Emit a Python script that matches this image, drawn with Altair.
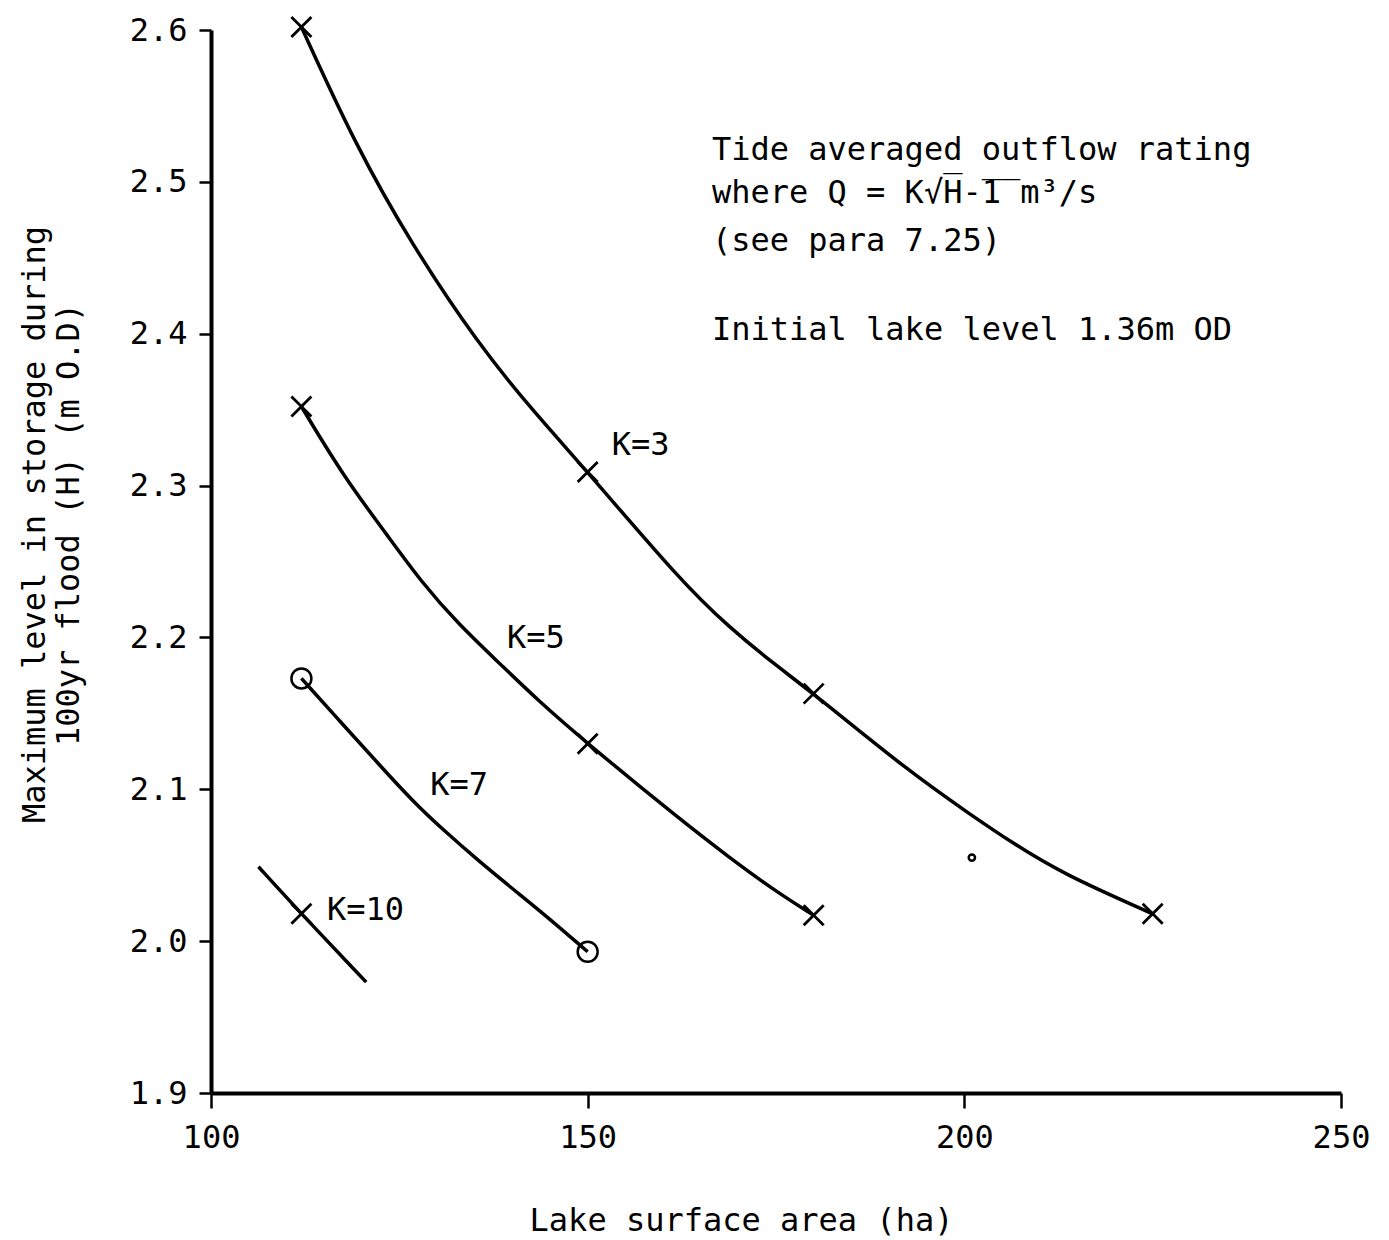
import altair as alt
import pandas as pd

# ---- curve values ----
k3_x = [112, 119.1, 126.6, 135.5, 142.6, 150, 162.3, 168.7, 174.6, 180, 192.3, 201.2, 206.6, 213.0, 225]
k3_y = [2.602, 2.525, 2.459, 2.393, 2.350, 2.309, 2.2375, 2.207, 2.183, 2.163, 2.113, 2.082, 2.064, 2.0445, 2.018]

k5_x = [112, 117.6, 123.3, 128.0, 132.8, 138.5, 143.3, 150, 162.3, 168.7, 174.6, 180]
k5_y = [2.352, 2.306, 2.268, 2.236, 2.209, 2.182, 2.159, 2.130, 2.080, 2.0555, 2.034, 2.017]

k7_x = [112, 117.8, 122.2, 126.6, 131.1, 135.5, 139.9, 144.4, 150]
k7_y = [2.173, 2.141, 2.117, 2.093, 2.072, 2.053, 2.035, 2.017, 1.993]

k10_x = [106.3, 112, 120.6]
k10_y = [2.049, 2.018, 1.973]

# ---- markers ----
cross_x = [112, 150, 180, 225, 112, 150, 180, 112]
cross_y = [2.602, 2.309, 2.163, 2.018, 2.352, 2.130, 2.017, 2.018]
circle_x = [112, 150]
circle_y = [2.173, 1.993]
dot_x = [201.0]
dot_y = [2.055]

# ---- curve labels ----
klabel_text = ["K=3", "K=5", "K=7", "K=10"]
klabel_x = [153.2, 139.3, 129.1, 115.4]
klabel_y = [2.3266, 2.1995, 2.1027, 2.0204]

# ---- annotation block ----
note_text = [
    "Tide averaged outflow rating",
    "where Q = K\u221aH\u0305-\u03051\u0305   m\u00b3/s",
    "(see para 7.25)",
    "Initial lake level 1.36m OD",
]
note_x = [166.5, 166.5, 166.5, 166.5]
note_y = [2.521, 2.4925, 2.4613, 2.4023]

x_ticks = [100, 150, 200, 250]
y_ticks = [1.9, 2.0, 2.1, 2.2, 2.3, 2.4, 2.5, 2.6]

FONT = "DejaVu Sans Mono"

rows = []
for name, xs, ys in [("K=3", k3_x, k3_y), ("K=5", k5_x, k5_y),
                     ("K=7", k7_x, k7_y), ("K=10", k10_x, k10_y)]:
    for i, (a, b) in enumerate(zip(xs, ys)):
        rows.append({"series": name, "x": a, "y": b, "o": i})
lines_df = pd.DataFrame(rows)
cross_df = pd.DataFrame({"x": cross_x, "y": cross_y})
circle_df = pd.DataFrame({"x": circle_x, "y": circle_y})
dot_df = pd.DataFrame({"x": dot_x, "y": dot_y})
klabel_df = pd.DataFrame({"t": klabel_text, "x": klabel_x, "y": klabel_y})
note_df = pd.DataFrame({"t": note_text, "x": note_x, "y": note_y})

xscale = alt.Scale(domain=[100, 250], nice=False, zero=False)
yscale = alt.Scale(domain=[1.9, 2.6], nice=False, zero=False)

xaxis = alt.Axis(values=x_ticks, grid=False, title="Lake surface area (ha)",
                 tickSize=15, labelPadding=14, titlePadding=52, titleX=530,
                 format="d")
yaxis = alt.Axis(values=y_ticks, grid=False, format=".1f",
                 title=["Maximum level in storage during", "100yr flood (H) (m O.D)"],
                 tickSize=12, labelPadding=12, titlePadding=44, titleY=494)

X = alt.X("x:Q", scale=xscale, axis=xaxis)
Y = alt.Y("y:Q", scale=yscale, axis=yaxis)

lines = alt.Chart(lines_df).mark_line(
    interpolate="basis", color="black", strokeWidth=3.5
).encode(x=X, y=Y, detail="series:N", order="o:Q")

crosses = alt.Chart(cross_df).mark_point(
    shape="M -1 -1 L 1 1 M -1 1 L 1 -1", filled=False, color="black",
    strokeWidth=2.8, size=400, opacity=1
).encode(x="x:Q", y="y:Q")

circles = alt.Chart(circle_df).mark_point(
    shape="circle", filled=False, color="black", strokeWidth=2.5, size=400, opacity=1
).encode(x="x:Q", y="y:Q")

dot = alt.Chart(dot_df).mark_point(
    shape="circle", filled=False, color="black", strokeWidth=2.5, size=40, opacity=1
).encode(x="x:Q", y="y:Q")

klabels = alt.Chart(klabel_df).mark_text(
    align="left", baseline="middle", font=FONT, fontSize=32, color="black"
).encode(x="x:Q", y="y:Q", text="t:N")

notes = alt.Chart(note_df).mark_text(
    align="left", baseline="middle", font=FONT, fontSize=32, color="black"
).encode(x="x:Q", y="y:Q", text="t:N")

chart = alt.layer(lines, crosses, circles, dot, klabels, notes).properties(
    width=1130, height=1063,
    padding={"left": 203, "top": 22, "right": 30, "bottom": 145},
    autosize=alt.AutoSizeParams(type="none"),
).configure_view(stroke=None).configure_axis(
    domainColor="black", domainWidth=4, tickColor="black", tickWidth=2.5,
    labelFont=FONT, labelFontSize=32, labelColor="black",
    titleFont=FONT, titleFontSize=32, titleFontWeight="normal", titleColor="black",
    labelFlush=False, labelOverlap=False,
)

chart.save("out.html", embed_options={"renderer": "svg", "actions": False})
